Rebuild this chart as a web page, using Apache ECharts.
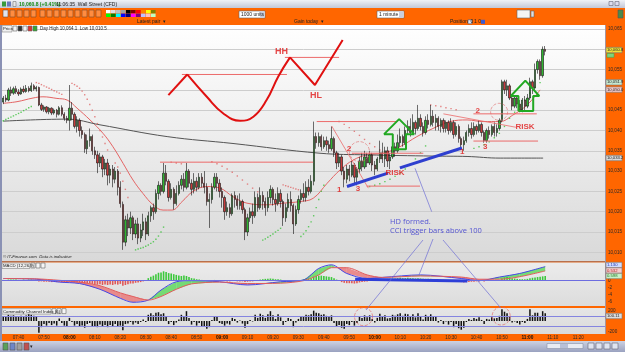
<!DOCTYPE html>
<html><head><meta charset="utf-8">
<script src="https://cdn.jsdelivr.net/npm/echarts@6/dist/echarts.min.js"></script>
<style>html,body{margin:0;padding:0;background:#ff6600;}#c{width:625px;height:352px;}</style>
</head><body><div id="c"></div>
<script>
// ---------- DATA ----------
const startMinute = 7*60+34, endMinute = 11*60+30;
const tickLabels = ['07:40','07:50','08:00','08:10','08:20','08:30','08:40','08:50','09:00','09:10','09:20','09:30','09:40','09:50','10:00','10:10','10:20','10:30','10:40','10:50','11:00','11:10','11:20'];
// [open, close, low, high]
const ohlc = [
[10047,10048,10046.5,10048.5],[10048,10047.5,10047,10048.8],[10047.5,10050,10047.2,10050.5],[10050,10049.2,10048.5,10050.8],[10049.2,10050.3,10048.8,10050.8],
[10050.3,10049.5,10049,10051],[10049.5,10049,10048.5,10050.2],[10049,10050.2,10048.8,10050.6],[10050.2,10049.6,10049.2,10051],[10049.6,10050.4,10049.3,10051.2],
[10050.4,10049.8,10049.4,10050.9],[10049.8,10051,10049.5,10051.8],[10051,10050.2,10049.8,10051.4],[10050.2,10050.6,10049.6,10051],[10050.6,10046.3,10046,10050.8],
[10046.3,10045.2,10044.8,10046.8],[10045.2,10045.8,10044.6,10046.2],[10045.8,10044.6,10044.2,10046],[10044.6,10045.5,10044,10045.8],[10045.5,10044.3,10043.8,10045.7],
[10044.3,10045,10043.9,10045.4],[10045,10044,10043.2,10045.3],[10044,10045.6,10043.7,10046],[10045.6,10044,10043.5,10046.2],[10044,10043,10042.4,10044.5],
[10043,10042.5,10041.8,10043.6],[10042.5,10045.5,10040,10051.2],[10045.5,10044,10042.5,10047],[10044,10041,10040.5,10044.5],[10041,10042.5,10039.5,10043.5],
[10042.5,10040,10038.5,10043],[10040,10039,10038,10041],[10039,10035.5,10034.5,10039.5],[10035.5,10037.5,10034.2,10039],[10037.5,10038.5,10036,10040.5],
[10038.5,10035,10034,10039],[10035,10034,10033,10036],[10034,10032,10029.5,10035],[10032,10033.5,10031,10034.5],[10033.5,10030.5,10028.5,10034],
[10030.5,10032,10029,10033],[10032,10029,10026.5,10033],[10029,10030.5,10027,10031.5],[10030.5,10028,10026,10031.5],[10028,10030,10027,10031],
[10030,10026,10024,10030.5],[10026,10022,10021,10027.5],[10021.8,10012.5,10010.6,10022.5],[10012.5,10018,10011.5,10019],[10018,10016,10014,10019.5],
[10016,10018.5,10014.5,10020],[10018.5,10014.5,10013,10019],[10014.5,10017,10013.5,10018],[10017,10013.5,10012,10018.5],[10013.5,10015.5,10012.5,10017],
[10015.5,10017.5,10014,10019.5],[10017.5,10014.5,10013,10018.5],[10014.5,10019,10014,10020],[10019,10021,10017.5,10021.5],[10021,10020,10018,10022],
[10020,10024.5,10019.5,10025.5],[10024.5,10026.5,10023,10027.5],[10026.5,10025,10024,10027],[10025,10029.5,10024.5,10032],[10029.5,10027.5,10026.5,10031.5],
[10027.5,10023.5,10022.5,10028],[10023.5,10025.5,10023,10027],[10025.5,10022,10020.5,10026],[10022,10024.5,10021.5,10026.5],[10024.5,10026.5,10024,10027.5],
[10026.5,10028,10025.5,10029],[10028,10026,10025,10029.5],[10026,10030,10025.5,10032],[10030,10027,10026,10030.5],[10027,10025.5,10024,10028],
[10025.5,10027.5,10024.5,10029.5],[10027.5,10026,10025,10028.5],[10026,10028.5,10025.5,10029.5],[10028.5,10027,10026,10029.5],[10027,10026,10024.5,10030],
[10026,10022.5,10021.5,10027],[10022.5,10023,10016,10024.5],[10023,10026,10022,10027],[10026,10028.5,10025.5,10029.5],[10028.5,10027,10025,10029.5],
[10027,10025,10023.5,10028],[10025,10023.5,10021,10026],[10023.5,10020,10018,10024],[10020,10021,10019,10022.5],[10021,10019.5,10018.5,10022],
[10019.5,10024,10019,10024.5],[10024,10023,10021,10025],[10023,10021.5,10020.5,10024],[10021.5,10022.5,10020.5,10024.5],[10022.5,10020.5,10019.5,10023],
[10020.5,10015,10013,10021],[10015,10018.5,10014,10019.5],[10018.5,10020,10017.5,10021],[10020,10019,10017,10022],[10019,10023.5,10018.5,10025],
[10023.5,10021,10020,10024.5],[10021,10024,10020.5,10026],[10024,10022.5,10020.5,10025],[10022.5,10021,10019,10023.5],[10021,10023.5,10020,10025],
[10023.5,10025.5,10022,10026.5],[10025.5,10023,10021.5,10026],[10023,10022,10020,10024.5],[10022,10024.5,10021.5,10026],[10024.5,10022.5,10021,10025.5],
[10022.5,10018.5,10016.5,10023],[10018.5,10021,10017.5,10022],[10021,10023,10020,10024.5],[10023,10021.5,10020,10025],[10021.5,10017,10014.5,10022],
[10017,10020.5,10016.5,10021.5],[10020.5,10023,10019.5,10024],[10023,10024.5,10022,10025.5],[10024.5,10023.5,10022.5,10027],[10023.5,10026,10022.5,10027.5],
[10026,10025,10024,10028],[10025,10027.5,10024.5,10029],[10027.5,10038.5,10026.5,10042.2],[10038.5,10037,10035.5,10039.5],[10037,10038.5,10036,10039.5],
[10038.5,10036,10035,10039],[10036,10037.5,10035.5,10038.5],[10037.5,10036.5,10035,10038.5],[10036.5,10035.5,10034.5,10037.5],[10035.5,10038,10035,10041],
[10038,10034.5,10033.5,10038.5],[10034.5,10032,10030.5,10035],[10032,10033.5,10031,10034.5],[10033.5,10030,10029,10034],[10030,10028,10026,10031],
[10028,10030.5,10027,10031.5],[10030.5,10029,10027.5,10031.5],[10029,10031.5,10028.5,10032.5],[10031.5,10028.5,10027,10032],[10028.5,10030.5,10026.5,10031],
[10030.5,10032.5,10029.5,10033.5],[10032.5,10031,10030,10034.5],[10031,10033.5,10030.5,10035],[10033.5,10032,10031,10034.5],[10032,10034,10031.5,10035],
[10034,10031.5,10030,10034.5],[10031.5,10030.5,10029,10032.5],[10030.5,10033,10030,10033.5],[10033,10034.5,10032,10037.5],[10034.5,10033,10032,10037],
[10033,10035,10031,10036],[10035,10032.5,10031,10036],[10032.5,10033.5,10030.5,10034.5],[10033.5,10036,10033,10037.5],[10036,10035,10033.5,10037],
[10035,10037,10034.5,10039],[10037,10038.5,10036,10040.5],[10038.5,10037,10036,10039],[10037,10040,10036.5,10041],[10040,10041,10039,10042.5],
[10041,10039.5,10038.5,10043],[10039.5,10042,10039,10044],[10042,10040.5,10039,10042.5],[10040.5,10043,10040,10046.3],[10043,10041,10040,10044],
[10041,10039.5,10038.5,10042],[10039.5,10042.5,10039,10043.5],[10042.5,10041.5,10040.5,10044],[10041.5,10043.5,10041,10046.3],[10043.5,10042,10041,10045],
[10042,10043,10040,10044],[10043,10041,10040,10043.5],[10041,10042.5,10039.5,10043],[10042.5,10040.5,10039.5,10043],[10040.5,10042,10039.5,10042.5],
[10042,10040,10039,10042.5],[10040,10042,10039.5,10043],[10042,10039,10038,10042.5],[10039,10041,10038.5,10042],[10041,10038,10037,10041.5],
[10038,10036.5,10035.5,10038.5],[10036.5,10037.5,10035,10038.5],[10037.5,10039.5,10037,10040],[10039.5,10040.5,10038.5,10041.5],[10040.5,10039,10038,10042],
[10039,10041,10038.5,10042],[10041,10040,10039,10041.5],[10040,10041.5,10039.5,10042.5],[10041.5,10039.5,10038.5,10042],[10039.5,10037.5,10037,10040],
[10037.5,10040,10037,10040.5],[10040,10039,10038,10041],[10039,10041,10038.5,10041.5],[10041,10039.5,10038.5,10042],[10039.5,10040.5,10038.5,10041.5],
[10040.5,10042.5,10040,10043],[10042.5,10052,10042,10052.5],[10052,10050,10049,10052.5],[10050,10051,10048.5,10052.5],[10051,10048,10047.5,10051.5],
[10048,10046,10045,10048.5],[10046,10048,10045.5,10048.5],[10048,10046.5,10045.5,10048.5],[10046.5,10045,10044.5,10047.5],[10045,10047.5,10044.5,10048],
[10047.5,10046,10045,10048.5],[10046,10048,10045.5,10049],[10048,10052,10047.5,10053],[10052,10050.5,10049,10052.5],[10050.5,10055,10050,10056.5],
[10055,10057,10054,10057.5],[10057,10053.5,10052.5,10057.5],[10053.5,10060,10053,10060.7],[10060,10059.5,10058.5,10060.8]
];
const emaPts = [[0,10046.7],[5.4,10047.1],[11.7,10048],[15.6,10048.3],[21.1,10047.9],[25.1,10047.5],[29,10045.5],[34.1,10042.6],[39.2,10039.3],[43.1,10036],[47.1,10031.9],[51,10027.8],[54.9,10024.5],[58.9,10021.7],[62.8,10020.4],[66.3,10020.4],[70.3,10022.5],[74.6,10025],[80.1,10026.2],[85.2,10025.8],[90.3,10023.7],[95.8,10022.1],[103.7,10021.7],[110,10022.1],[116.6,10022.5],[121.8,10023.3],[127.3,10027],[132.4,10030.3],[137.5,10032.7],[143,10034],[149.3,10034.4],[155.9,10036],[162.6,10038.5],[168.9,10040.5],[175.6,10042.2],[182.3,10042.6],[188.6,10042.2],[195.2,10042.2],[200.3,10043.8],[205.9,10046.3],[211,10050]];
const ma200Pts = [[0,10042.3],[25,10042.8],[38,10041.4],[64.4,10038.5],[90.3,10036.8],[124.5,10034.4],[143,10034],[168.9,10033.7],[182.3,10033.6],[195.3,10033.2],[212.2,10033.2]];
const sarGreen = [[0,10042.4],[1,10042.7],[2,10043],[3,10043.3],[4,10043.6],[5,10043.9],[6,10044.2],[7,10044.5],[8,10044.9],[9,10045.2],[10,10045.6],[11,10045.9],
[52,10010.6],[53,10010.8],[54,10011],[55,10011.2],[56,10011.5],[57,10011.8],[58,10012.2],[59,10012.6],[60,10013.2],[61,10014],[62,10015],[63,10016.2],
[102,10013],[103,10013.3],[104,10013.7],[105,10014.1],[106,10014.5],[107,10015],[108,10015.4],[109,10015.9],
[117,10013.9],[118,10014.5],[119,10015.3],[120,10016.3],[121,10017.5],[122,10019],[123,10021],[124,10023],[125,10025],[126,10026.5],
[144,10026.2],[146,10026.5],[148,10026.9],[150,10027.4],[152,10028],[154,10028.7],[156,10029.5],[158,10030.5],[160,10031.7],[162,10033],[164,10034.5],[166,10036.2],
[185,10035.6],[187,10036],[189,10036.5],[191,10037.2],[193,10038.2],[195,10039.3],[197,10041],[199,10043],[201,10044.5],[203,10046],[205,10047.5],[207,10049.2],[209,10050.6],[211,10051.8]];
const sarRed = [[13,10051.8],[14,10051.6],[15,10051.3],[16,10051],[17,10050.7],[18,10050.4],[19,10050.1],[20,10049.8],[21,10049.5],[22,10049.2],[23,10048.9],
[27,10051.6],[28,10051.3],[29,10050.9],[30,10050.4],[31,10049.7],[32,10048.8],[33,10047.7],[34,10046.4],[35,10045],[36,10043.4],[37,10041.7],[38,10040],[39,10038.4],[40,10036.8],[41,10035.2],
[44,10032],[45,10031],[46,10029.5],[47,10027.5],[48,10025.5],[49,10023.5],
[66,10032.2],[68,10032],[70,10031.8],
[82,10032.3],[84,10031.8],[86,10031.2],[88,10030.5],[90,10029.7],[92,10028.8],[94,10027.8],[96,10026.8],[98,10025.8],[100,10024.9],
[110,10026.6],[111,10026.4],[112,10026.2],[113,10026],[114,10025.8],[115,10025.6],[116,10025.4],
[132,10042.2],[134,10041.5],[136,10040.7],[138,10039.8],[140,10038.8],[142,10037.8],[144,10036.8],[146,10036],[148,10035.2],
[168,10046.3],[170,10046.1],[172,10045.9],[174,10045.6],[176,10045.4],[178,10045.1]];
const macdHist = [0.1,0.1,0.2,0.2,0.2,0.2,0.1,0.1,0.2,0.1,0.2,0.2,0.1,0.1,
-0.3,-0.3,-0.4,-0.4,-0.4,-0.5,-0.5,-0.5,-0.4,-0.5,-0.6,-0.6,-0.4,-0.5,-0.6,-0.6,-0.7,
-0.7,-0.9,-0.9,-0.8,-1.0,-1.1,-1.2,-1.1,-1.3,-1.2,-1.3,-1.2,-1.3,-1.1,-1.2,-1.0,-1.5,-1.3,-1.1,-0.9,-0.9,-0.7,-0.6,-0.5,-0.3,-0.2,
0.6,1.0,1.3,1.7,2.1,2.2,2.5,2.3,2.0,1.9,1.7,1.5,
1.3,1.2,1.3,1.2,0.9,0.6,0.5,0.3,0.2,0.1,-0.1,-0.2,
-0.2,-0.1,0.1,0.1,0,-0.1,-0.2,-0.3,-0.3,-0.2,-0.2,-0.3,-0.3,-0.3,-0.5,-0.4,-0.3,-0.3,-0.1,
0.1,0.2,0.3,0.4,0.4,0.5,0.4,0.3,0.3,0.2,0,-0.1,-0.1,0,-0.2,-0.2,-0.1,0,
0.3,0.4,0.5,0.6,1.0,1.2,1.3,1.3,1.2,1.1,1.0,0.9,0.6,0.2,-0.2,
-0.5,-0.7,-0.8,-0.8,-0.8,-0.9,-0.8,-0.6,-0.5,-0.4,-0.3,-0.2,-0.2,-0.1,0,
0.2,0.3,0.3,0.4,0.4,0.5,0.5,0.6,0.7,0.6,0.6,0.7,0.6,0.6,0.5,0.6,0.5,0.4,0.4,0.4,0.4,0.3,0.3,0.2,0.1,0.1,0,
-0.1,-0.2,-0.3,-0.3,-0.4,-0.5,-0.6,-0.5,-0.5,-0.4,-0.4,-0.3,-0.3,-0.2,-0.3,-0.2,-0.1,-0.1,0,0,0.1,
0.5,0.8,0.9,0.8,0.6,0.5,0.4,0.3,0.3,0.3,0.4,0.6,0.7,0.8,0.9,1.0,1.1,1.2];
const macdIdx = [0,13,22,30,38,46,51,57,62,68,74,85,96,109,118,124,129,135,143,149,164,180,187,195,203,213];
const macdLine = [0.5,0.3,-0.5,-0.9,-2.5,-5.0,-6.1,-5.5,-2.7,-0.4,-0.1,-0.4,-1.3,-0.4,0.1,3.3,4.3,1.9,0.5,0.8,1.5,0.5,-0.1,0.9,1.9,3.8];
const signalLine = [0.5,0.4,0,-0.5,-1.5,-3.5,-4.5,-5.5,-4.5,-2.5,-1.0,-0.5,-0.9,-0.8,-0.1,1.5,3.5,3.5,1.5,0.8,1.2,0.9,0.3,0.3,1.0,2.6];
const cci = [90,80,120,100,110,95,80,100,90,105,160,120,100,80,-230,-120,-60,-90,-40,-80,
-50,-90,50,-40,-90,-100,60,-20,-90,-60,-100,-90,-130,-60,-40,-100,-110,-120,-70,-110,
-80,-120,-80,-100,-60,-110,-90,-180,-60,-50,-20,-70,-30,-60,-20,30,-20,120,150,110,
160,170,130,150,90,-60,-20,-80,-30,30,120,80,190,60,-70,-20,-90,-40,-110,-100,
-150,-120,20,90,80,-40,-60,-90,-50,-70,60,40,-30,10,-50,-130,-60,20,-10,120,
60,140,110,60,130,190,110,40,130,70,-80,-20,60,40,-120,-30,40,90,80,120,
110,130,200,160,150,120,130,100,80,110,-40,-110,-80,-130,-150,-60,-80,-20,-90,-40,
80,60,110,70,110,40,-30,60,140,90,110,50,60,120,100,130,150,100,140,130,
90,130,70,150,90,30,120,90,130,80,80,-30,20,-60,-10,-70,-20,-120,-60,-140,
-170,-130,-20,40,20,60,40,70,20,-60,40,30,70,50,60,100,230,180,150,90,
-30,-10,-40,-70,-20,-40,40,230,110,160,160,80,190,150];
// annotations (bar index, price)
const hLines = [[70.2,111.5,10053.8],[110.7,132,10058],[61.6,121.8,10032.2],[123.2,154.6,10042.2],[137,165.1,10034.4],[142.8,163.8,10026.3],[184.8,209.7,10044.1],[184.8,210.2,10037.4]];
const diagLines = [[[129.1,10041.1],[143.5,10025.8]],[[173,10044.1],[201.5,10040.8]]];
const blueLines = [[[135.1,10026.2],[151.2,10029.5]],[[155.9,10030.8],[180.3,10035.7]]];
const curveA = [[64.9,10048.7],[72.3,10053.8]];
const curveB = [[72.3,10053.8],[80,10048.3],[86.5,10044.2],[93.1,10042.4],[98.3,10043.4],[103.5,10047.5],[108.1,10053.3],[112.7,10058]];
const curveC = [[112.7,10058],[122.5,10051.2],[133.4,10062.3]];
const arrow1 = [[153.1,10035.4],[158.3,10035.4],[158.3,10039.1],[161.5,10039.1],[155.6,10042.8],[149.7,10039.1],[153.1,10039.1],[153.1,10035.4]];
const arrow2 = [[202.5,10044.8],[208.3,10044.8],[208.3,10048.5],[210.7,10048.5],[205.2,10052.3],[199.5,10048.5],[202.5,10048.5],[202.5,10044.8]];
const redTexts = [['HH',109.4,10059.4,9],['HL',122.9,10048.7,9],['1',132.1,10025.3,8],['2',135.9,10035.6,8],['3',139.4,10025.6,8],['RISK',154,10029.5,8],['1',180.4,10034.8,8],['2',186.5,10044.9,8],['3',189.4,10036,8],['RISK',205.1,10040.8,8]];
const blueTexts = [['HD formed.',152,10017.5],['CCI trigger bars above 100',152,10015.2]];
const circles = [[140,10034.8,20],[194.9,10044.6,17]];
const cciCircles = [[141.6,83,18],[195.7,97,18]];
const macdMark = [[138.3,0.3],[182.4,-0.2]];

// ---------- BUILD ----------
const pad = n => (n<10?'0':'')+n;
const cats = [];
for (let m = startMinute; m <= endMinute; m++) cats.push(pad(Math.floor(m/60))+':'+pad(m%60));
const NCAT = cats.length;
const FONT = 'Liberation Sans';
const grad = (a,b) => new echarts.graphic.LinearGradient(0,0,0,1,[{offset:0,color:a},{offset:1,color:b}]);
const R = (x,y,w,h,fill,stroke,z) => ({type:'rect', z: z==null?-10:z, shape:{x,y,width:w,height:h}, style:{fill, stroke: stroke||null, lineWidth: stroke?0.6:0}});
const T = (x,y,text,o) => ({type:'text', z:60, x, y, style:Object.assign({text, fontSize:5, fontFamily:FONT, fill:'#222', verticalAlign:'middle'}, o||{})});
const L = (x1,y1,x2,y2,stroke,w,z) => ({type:'line', z: z==null?60:z, shape:{x1,y1,x2,y2}, style:{stroke, lineWidth:w||0.7}});
const comma = v => String(v).replace(/\B(?=(\d{3})+(?!\d))/g, ',');

const gfx = [];
// frame / backgrounds
gfx.push(R(0,0,625,8,grad('#f0f2f7','#c3c8d8')));
gfx.push(R(0,25,2,316,'#8a91b4'));
gfx.push(R(2,25,603,236,grad('#ffffff','#d9d9d9')));
gfx.push(R(2,261,603,1.4,'#b9704c'));
gfx.push(R(2,262.4,603,43.6,grad('#ececec','#dcdcdc')));
gfx.push(R(2,308,603,26,grad('#e6e6e6','#dadada')));
gfx.push(R(605,25,0.8,309,'#8fa2c8'));
gfx.push(R(0,341,625,11,grad('#cdd2e2','#9aa2c0')));
// title bar
gfx.push(R(2,1.5,4,5,'#3a9a3a',null,50)); gfx.push(R(7,1.5,4,5,'#6a7ab8',null,50)); gfx.push(R(13,1.5,3,5,'#e8e8e8','#777',50));
gfx.push(T(19,4.2,'10,060.8 (+0.41%)',{fill:'#128a12',fontWeight:'bold'}));
gfx.push(T(56,4.2,'11:06:35  Wall Street (CFD)',{fill:'#222'}));
gfx.push(R(609,1.5,4,4,'#dde','#667',50)); gfx.push(R(615,1.5,4,4,'#dde','#667',50));
// toolbar
const toolX = [3,10,17,24,31,40,47,54,61,68,75,82,89,96];
toolX.forEach((x,k)=>gfx.push(R(x,10,5,7,k===0?'#dfe3f0':'rgba(255,255,255,0.25)','#7a4a2a',50)));
const pal = ['#ffffff','#e0e0e0','#c0c0c0','#a0a0a0','#000000','#800000','#ff0000','#ff8000','#ffff00','#808000','#00ff00','#008000','#00ffff','#0000ff','#000080','#ff00ff','#800080','#c0c0ff','#ffc0c0','#c0ffc0'];
pal.forEach((c,k)=>gfx.push(R(106+(k%10)*5,10+Math.floor(k/10)*3.6,4.6,3.4,c,null,50)));
gfx.push(R(239,11,26,7,'#ffffff','#666',50)); gfx.push(R(260,11.5,4.5,6,'#c9cfe0',null,51));
gfx.push(T(241,14.6,'1000 units'));
gfx.push(R(377,11,27,7,'#ffffff','#666',50)); gfx.push(R(399,11.5,4.5,6,'#c9cfe0',null,51));
gfx.push(T(379,14.6,'1 minute'));
gfx.push(R(517,10,13,8,'#f4f4f4','#666',50)); gfx.push(R(531,11,3,6,'#e0e0e0','#666',50));
gfx.push(R(618,10,5,8,'#4b8a4b','#555',50));
// strip labels
gfx.push(T(137,22,'Latest pair  \u25be'));
gfx.push(T(294,22,'Gain today  \u25be'));
gfx.push(T(450,22,'Position  0'));
gfx.push(R(468,19.8,4,4,'#dfe6f5','#556',50)); gfx.push(T(474,22,'1 0')); gfx.push(R(481,19.8,4,4,'#3a5ad0',null,50));
// price header
gfx.push(R(2,25.5,10,6.5,'#f0f0f0','#888',50)); gfx.push(T(3,28.9,'Price',{fontSize:4.3}));
[13,18,23,28,33].forEach((x,k)=>gfx.push(R(x,26,4,5,['#f5f5f5','#333','#f5f5f5','#d33','#3a3'][k],'#666',50)));
gfx.push(T(40,29,'Day High 10,064.1  Low 10,010.5',{fontSize:4.5}));
gfx.push(T(3,256.5,'\u00a9 IT-Finance.com  Data is indicative',{fontSize:4.3,fontStyle:'italic'}));
// MACD / CCI headers
gfx.push(R(2,263,28,5.5,'#eeeeee','#888',50)); gfx.push(T(3,265.8,'MACD (12,26,9)',{fontSize:4.3}));
[31,36,41].forEach(x=>gfx.push(R(x,263,4,5,'#f5f5f5','#666',50)));
gfx.push(R(2,308.6,49,5.5,'#eeeeee','#888',50)); gfx.push(T(3,311.4,'Commodity Channel Index (6)',{fontSize:4.3}));
[52,57,62].forEach(x=>gfx.push(R(x,308.6,4,5,'#f5f5f5','#666',50)));
// right axis value boxes
const box = (y,fill,txt,col) => { gfx.push(R(606,y-2.7,16,5.4,fill,'#777',70)); gfx.push(Object.assign(T(607,y,txt,{fontSize:4.2,fill:col||'#222'}),{z:71})); };
box(50,'#f2e23a','10,060.8');
gfx.push(R(607,53.5,7,3.8,'#7fd27f','#4a4',70));
box(82.3,'#c8e8d0','10,051.9');
box(89.6,'#f2c8c8','10,050.0');
box(158,'#d8d8d8','10,033.2');
box(265,'#d0dcff','1.130','#2233aa');
box(270.5,'#f7cccc','0.532','#aa2222');
box(276,'#c8f0c8','0.598','#227722');
box(316,'#dddddd','100.11');
// bottom toolbar
[3,10,17,24].forEach((x,k)=>gfx.push(R(x,343,5,7,['#5aa05a','#6f86c8','#a0a0a0','#c05050'][k],'#555',50)));
gfx.push(T(30,346.5,'\u25be'));
gfx.push(R(547,343.5,36,5,'#e8ebf3','#8890a8',50)); gfx.push(R(560,344,8,4,'#b8c0d8',null,51));
[588,596,604,612].forEach(x=>gfx.push(R(x,343,6,6,'#dfe4f0','#667',50)));
// connector lines from annotation
gfx.push(L(415,168.3,431.7,211.7,'#6f6fd6',0.7));
gfx.push(L(423,240,366,310,'#6f6fd6',0.7));
gfx.push(L(433,239,419,275,'#6f6fd6',0.7));
gfx.push(L(443,240,500.8,308,'#6f6fd6',0.7));

const series = [];
series.push({type:'candlestick', xAxisIndex:0, yAxisIndex:0, data:ohlc, barWidth:1.8,
  itemStyle:{color:'#2fb52f', color0:'#c83a3a', borderColor:'#111', borderColor0:'#111', borderWidth:0.6}, z:5});
const lineS = (data, color, width, extra) => Object.assign({type:'line', xAxisIndex:1, yAxisIndex:0, data, symbol:'none', silent:true,
  lineStyle:{color, width}, clip:false, z:4}, extra||{});
series.push(lineS(emaPts,'#e46464',1,{smooth:0.4}));
series.push(lineS(ma200Pts,'#555555',1,{smooth:0.4}));
series.push({type:'scatter', xAxisIndex:1, yAxisIndex:0, data:sarGreen, symbol:'rect', symbolSize:1.4, itemStyle:{color:'#3cc23c'}, z:4, silent:true});
series.push({type:'scatter', xAxisIndex:1, yAxisIndex:0, data:sarRed, symbol:'rect', symbolSize:1.4, itemStyle:{color:'#e06868'}, z:4, silent:true});
hLines.forEach(h=>series.push(lineS([[h[0],h[2]],[h[1],h[2]]],'#ec6a6a',1,{z:6})));
diagLines.forEach(d=>series.push(lineS(d,'#ec6a6a',0.8,{z:6})));
blueLines.forEach(d=>series.push(lineS(d,'#2e3fcf',3,{z:7})));
series.push(lineS(curveA,'#e01010',2,{z:7}));
series.push(lineS(curveB,'#e01010',2,{z:7,smooth:0.45}));
series.push(lineS(curveC,'#e01010',2,{z:7}));
series.push(lineS(arrow1,'#22a822',2,{z:7}));
series.push(lineS(arrow2,'#22a822',2,{z:7}));
circles.forEach(c=>series.push({type:'scatter', xAxisIndex:1, yAxisIndex:0, data:[[c[0],c[1]]], symbol:'circle', symbolSize:c[2], silent:true, z:7,
  itemStyle:{color:'rgba(0,0,0,0)', borderColor:'#e07070', borderWidth:0.8, borderType:'dashed'}}));
series.push({type:'scatter', xAxisIndex:1, yAxisIndex:0, z:8, silent:true, symbolSize:1, itemStyle:{color:'rgba(0,0,0,0)'},
  data: redTexts.map(t=>({name:t[0], value:[t[1],t[2]], label:{fontSize:t[3]}})),
  label:{show:true, position:'inside', formatter:'{b}', color:'#e01818', fontFamily:FONT, fontWeight:'bold'}});
series.push({type:'scatter', xAxisIndex:1, yAxisIndex:0, z:8, silent:true, symbolSize:1, itemStyle:{color:'rgba(0,0,0,0)'},
  data: blueTexts.map(t=>({name:t[0], value:[t[1],t[2]]})),
  label:{show:true, position:'inside', align:'left', formatter:'{b}', color:'#2f2fcf', fontFamily:'Open Sans', fontSize:7.5}});
// MACD
series.push({type:'bar', xAxisIndex:2, yAxisIndex:1, data:macdHist, barWidth:1.6, silent:true, z:3,
  itemStyle:{color: p => p.value>=0 ? '#3cc83c' : '#e05858'},
  markLine:{silent:true, symbol:'none', label:{show:false}, data:[{yAxis:0}], lineStyle:{color:'#6d6de0', width:1, type:'solid'}}});
series.push({type:'custom', xAxisIndex:3, yAxisIndex:1, silent:true, z:2,
  data: macdIdx.map((x,k)=>[x, macdLine[k], signalLine[k]]),
  renderItem:(params, api)=>{
    const k = params.dataIndex;
    if (k >= macdIdx.length-1) return null;
    const x0=macdIdx[k], x1=macdIdx[k+1], m0=macdLine[k], m1=macdLine[k+1], s0=signalLine[k], s1=signalLine[k+1];
    const d0=m0-s0, d1=m1-s1;
    const poly = (xa,ma,sa,xb,mb,sb,pos) => ({type:'polygon', shape:{points:[api.coord([xa,ma]),api.coord([xb,mb]),api.coord([xb,sb]),api.coord([xa,sa])]},
      style:{fill: pos ? 'rgba(80,215,80,0.75)' : 'rgba(235,110,110,0.75)'}});
    if (d0*d1 < 0) {
      const t = d0/(d0-d1), xc = x0+(x1-x0)*t, mc = m0+(m1-m0)*t;
      return {type:'group', children:[poly(x0,m0,s0,xc,mc,mc,d0>0), poly(xc,mc,mc,x1,m1,s1,d1>0)]};
    }
    return {type:'group', children:[poly(x0,m0,s0,x1,m1,s1,(d0+d1)>=0)]};
  }});
series.push({type:'line', xAxisIndex:3, yAxisIndex:1, data: macdIdx.map((x,k)=>[x,macdLine[k]]), smooth:0.3, symbol:'none', lineStyle:{color:'#4646e6', width:1}, z:4, silent:true});
series.push({type:'line', xAxisIndex:3, yAxisIndex:1, data: macdIdx.map((x,k)=>[x,signalLine[k]]), smooth:0.3, symbol:'none', lineStyle:{color:'#e25c5c', width:1}, z:4, silent:true});
series.push({type:'line', xAxisIndex:3, yAxisIndex:1, data: macdMark, symbol:'none', lineStyle:{color:'#2e3fd8', width:3}, z:6, silent:true});
// CCI
series.push({type:'bar', xAxisIndex:4, yAxisIndex:2, data:cci, barWidth:1.5, silent:true, z:3, itemStyle:{color:'#111111'},
  markLine:{silent:true, symbol:'none', label:{show:false}, data:[{yAxis:100},{yAxis:-100}], lineStyle:{color:'#8585e0', width:1, type:'solid'}}});
cciCircles.forEach(c=>series.push({type:'scatter', xAxisIndex:5, yAxisIndex:2, data:[[c[0],c[1]]], symbol:'circle', symbolSize:c[2], silent:true, z:7,
  itemStyle:{color:'rgba(0,0,0,0)', borderColor:'#e06060', borderWidth:0.8, borderType:'dashed'}}));

const hidden = {show:false};
const option = {
  backgroundColor:'#ff6600', animation:false,
  textStyle:{fontFamily:FONT},
  grid:[
    {left:2, right:20, top:29, height:223.3},
    {left:2, right:20, top:262.3, height:43.2},
    {left:2, right:20, top:308.1, height:25.75}
  ],
  xAxis:[
    {type:'category', gridIndex:0, data:cats, boundaryGap:true, show:false},
    {type:'value', gridIndex:0, min:-0.5, max:NCAT-0.5, show:false},
    {type:'category', gridIndex:1, data:cats, boundaryGap:true, show:false},
    {type:'value', gridIndex:1, min:-0.5, max:NCAT-0.5, show:false},
    {type:'category', gridIndex:2, data:cats, boundaryGap:true,
      axisLine:hidden, axisTick:hidden, splitLine:hidden,
      axisLabel:{margin:1.6, fontSize:4.6, color:'#2a2a2a', fontFamily:FONT,
        interval:(i,v)=>tickLabels.indexOf(v)>=0,
        formatter:v => v.endsWith(':00') ? '{b|'+v+'}' : v,
        rich:{b:{fontWeight:'bold', fontSize:4.8, color:'#111', fontFamily:FONT}}}},
    {type:'value', gridIndex:2, min:-0.5, max:NCAT-0.5, show:false}
  ],
  yAxis:[
    {type:'value', gridIndex:0, position:'right', min:10010, max:10065, interval:5, scale:true,
      axisLine:hidden, axisTick:hidden,
      splitLine:{lineStyle:{color:'#cdcdcd', width:1}},
      axisLabel:{margin:3, fontSize:4.6, color:'#2a2a2a', fontFamily:FONT, formatter:v=>comma(v)}},
    {type:'value', gridIndex:1, position:'right', min:-7, max:5, interval:1,
      axisLine:hidden, axisTick:hidden, splitLine:hidden,
      axisLabel:{margin:3, fontSize:4.6, color:'#2a2a2a', fontFamily:FONT, formatter:v=>(v<=0 && v%2===0)? String(v):''}},
    {type:'value', gridIndex:2, position:'right', min:-250, max:250, interval:50,
      axisLine:hidden, axisTick:hidden, splitLine:hidden,
      axisLabel:{margin:3, fontSize:4.6, color:'#2a2a2a', fontFamily:FONT, formatter:v=>(v===200||v===-200)? String(v):''}}
  ],
  graphic: gfx,
  series
};
const chart = echarts.init(document.getElementById('c'), null, {renderer:'canvas'});
chart.setOption(option);
</script></body></html>
